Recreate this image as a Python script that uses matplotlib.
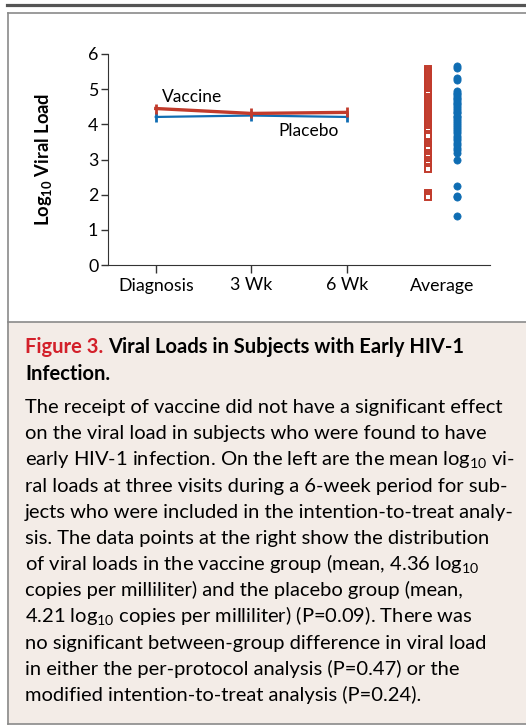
import matplotlib
matplotlib.use("Agg")
import matplotlib.pyplot as plt
from matplotlib.lines import Line2D
from matplotlib.patches import Rectangle

plt.rcParams['font.family'] = ['Lato', 'DejaVu Sans']
plt.rcParams['mathtext.fontset'] = 'custom'
plt.rcParams['mathtext.rm'] = 'Lato'
plt.rcParams['mathtext.bf'] = 'Lato:bold'

# data
visits = ["Diagnosis", "3 Wk", "6 Wk"]
vaccine_mean = [4.45, 4.31, 4.34]
placebo_mean = [4.21, 4.25, 4.21]

vaccine_avg = [5.56, 5.51, 5.47, 5.41, 5.36, 5.30, 5.23, 5.18, 5.12, 5.07,
               5.01, 4.95, 4.90, 4.85, 4.78, 4.72, 4.67, 4.62, 4.55, 4.50,
               4.44, 4.38, 4.33, 4.27, 4.22, 4.15, 4.10, 4.04, 3.98, 3.92,
               3.87, 3.80, 3.73, 3.67, 3.47, 3.42, 3.36, 3.30, 3.18, 3.12,
               3.06, 3.00, 2.93, 2.87, 2.80, 2.74, 2.05, 2.00, 1.93]
placebo_avg = [5.65, 5.61, 5.31, 5.26, 4.94, 4.90, 4.86, 4.81, 4.76, 4.72,
               4.66, 4.62, 4.57, 4.51, 4.46, 4.41, 4.35, 4.31, 4.25, 4.20,
               4.14, 4.09, 4.04, 3.98, 3.92, 3.86, 3.81, 3.74, 3.68, 3.62,
               3.55, 3.48, 3.41, 3.34, 3.26, 3.19, 3.00, 2.25, 1.97, 1.92,
               1.38]

RED = "#c13b2c"
BLUE = "#0f6db3"

W, H = 526, 727
fig = plt.figure(figsize=(W / 100, H / 100), dpi=100)

def fx(px):
    return px / W

def fy(py):
    return 1 - py / H

# frame and caption panel
fig.patches.append(Rectangle((fx(7), fy(724)), 1 - fx(7), fy(322) - fy(724),
                             transform=fig.transFigure, facecolor="#f3ece7",
                             edgecolor="none", zorder=0))
fig.lines.append(Line2D([fx(7), 1], [fy(4.5), fy(4.5)], transform=fig.transFigure,
                        color="#555555", lw=2.3))
for y in (12.5, 322, 724):
    fig.lines.append(Line2D([fx(7.5), 1], [fy(y), fy(y)], transform=fig.transFigure,
                            color="#8a8a8a", lw=1.2))
fig.lines.append(Line2D([fx(7.5), fx(7.5)], [fy(12.5), fy(724)], transform=fig.transFigure,
                        color="#8a8a8a", lw=1.2))

# chart
ax = fig.add_axes([fx(108), fy(265), fx(490) - fx(108), fy(54) - fy(265)])
x = list(range(len(visits)))
ax.plot(x, placebo_mean, color=BLUE, lw=1.6, marker="|", ms=7, mew=2, zorder=3)
ax.plot(x, vaccine_mean, color=RED, lw=2.4, marker="|", ms=7, mew=2, zorder=4)

ax.plot([3 - 0.15] * len(vaccine_avg), vaccine_avg, ls="none", marker="s",
        ms=5.0, mfc="white", mec=RED, mew=1.4, zorder=3)
ax.plot([3 + 0.15] * len(placebo_avg), placebo_avg, ls="none", marker="o",
        ms=5.2, mfc=BLUE, mec=BLUE, mew=0.5, zorder=3)

ax.text(0.06, 4.77, "Vaccine", fontsize=12.5, va="center", ha="left")
ax.text(1.28, 3.80, "Placebo", fontsize=12.5, va="center", ha="left")

ax.set_xlim(-0.5, 3.5)
ax.set_ylim(0, 6)
ax.set_yticks(range(7))
ax.set_xticks(x + [3])
ax.set_xticklabels(visits + ["Average"])
ax.tick_params(axis="both", labelsize=12.8, color="#333333", width=1)
ax.tick_params(axis="y", length=5, pad=2)
ax.tick_params(axis="x", length=6, pad=3)
ax.xaxis.get_major_ticks()[3].tick1line.set_visible(False)
for s in ("top", "right"):
    ax.spines[s].set_visible(False)
for s in ("left", "bottom"):
    ax.spines[s].set_color("#333333")
ax.patch.set_visible(False)

fig.text(fx(43), fy(159), r"Log$_{\mathbf{10}}$ Viral Load", rotation=90,
         fontsize=13.2, fontweight="bold", ha="center", va="center")

# caption
CAP = 14.5
fig.text(fx(25), fy(353), "Figure 3. ", color="#d3202a", fontsize=CAP,
         fontweight="bold", va="baseline")
t = fig.text(fx(25), fy(353), "Figure 3. ", color="none", fontsize=CAP,
             fontweight="bold", va="baseline")
fig.canvas.draw()
bb = t.get_window_extent()
fig.text(bb.x1 / W, fy(353), "Viral Loads in Subjects with Early HIV-1",
         fontsize=CAP, fontweight="bold", va="baseline")
fig.text(fx(25), fy(380), "Infection.", fontsize=CAP, fontweight="bold", va="baseline")

body = [
    "The receipt of vaccine did not have a significant effect",
    "on the viral load in subjects who were found to have",
    r"early HIV-1 infection. On the left are the mean log$_{10}$ vi-",
    "ral loads at three visits during a 6-week period for sub-",
    "jects who were included in the intention-to-treat analy-",
    "sis. The data points at the right show the distribution",
    r"of viral loads in the vaccine group (mean, 4.36 log$_{10}$",
    "copies per milliliter) and the placebo group (mean,",
    r"4.21 log$_{10}$ copies per milliliter) (P=0.09). There was",
    "no significant between-group difference in viral load",
    "in either the per-protocol analysis (P=0.47) or the",
    "modified intention-to-treat analysis (P=0.24).",
]
for i, line in enumerate(body):
    fig.text(fx(25), fy(413 + 26.2 * i), line, fontsize=CAP, va="baseline")

fig.savefig("out.png", dpi=100)
